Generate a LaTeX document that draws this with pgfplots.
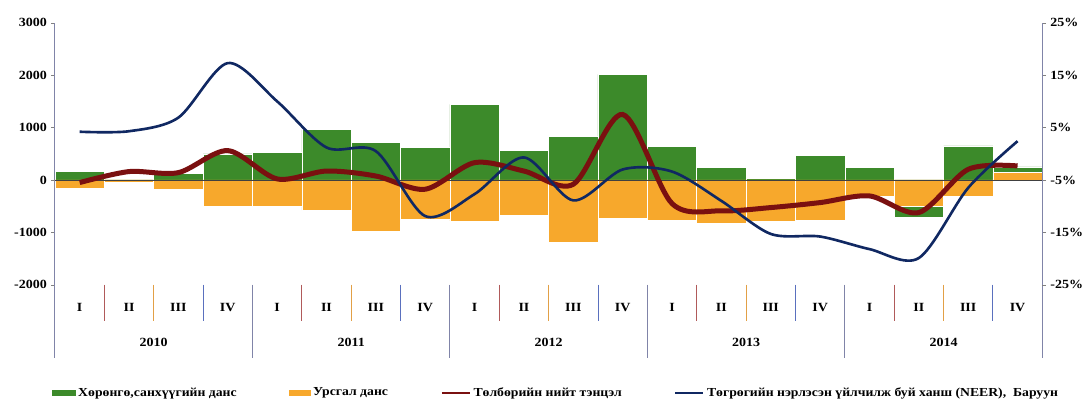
\documentclass[border=0pt]{standalone}
\usepackage{fontspec}
\setmainfont{Liberation Serif}[FakeStretch=1.12]
\usepackage{pgfplots}
\usepackage{pgfplotstable}
\pgfplotsset{compat=1.18}

\definecolor{capgreen}{RGB}{60,138,42}
\definecolor{curorange}{RGB}{247,168,44}
\definecolor{bopred}{RGB}{122,16,16}
\definecolor{neerblue}{RGB}{16,40,98}
\definecolor{axisgrey}{RGB}{128,132,168}
\definecolor{sepred}{RGB}{176,90,90}
\definecolor{sepora}{RGB}{226,160,70}
\definecolor{sepblue}{RGB}{90,112,190}

% quarter values, Q1 2010 .. Q4 2014 (left axis, mln USD)
\pgfplotstableread{
x    capfin current bop
0.5   160   -150   -50
1.5     0    -40   160
2.5   120   -170   140
3.5   500   -495   560
4.5   520   -495    20
5.5   960   -577   170
6.5   710   -971    75
7.5   615   -749  -177
8.5  1440   -781   330
9.5   566   -667   170
10.5  838  -1194   -82
11.5 2013   -730  1250
12.5  634   -768  -450
13.5  234   -832  -590
14.5   32   -794  -527
15.5  470   -768  -432
16.5  234   -305  -305
17.5 -720   -495  -622
18.5  648   -305   203
19.5  248    140   267
}\bopdata

% NEER, right axis (%)
\pgfplotstableread{
x    neer
0.5   4.2
1.5   4.3
2.5   6.9
3.5  17.3
4.5  10.0
5.5   1.2
6.5   0.5
7.5 -11.9
8.5  -7.7
9.5  -0.7
10.5 -8.9
11.5 -3.0
12.5 -3.4
13.5 -9.0
14.5 -15.3
15.5 -15.8
16.5 -18.2
17.5 -19.9
18.5 -6.5
19.5  2.4
}\neerdata

\pgfplotsset{
  common/.style={
    scale only axis, width=789.8pt, height=209.6pt,
    xmin=0, xmax=20,
    clip=false,
    tick align=outside, major tick length=3pt,
    /pgf/number format/assume math mode=true,
    /pgf/number format/1000 sep={},
    yticklabel style={font=\fontsize{10}{12}\selectfont\bfseries},
    xticklabel style={font=\fontsize{10}{12}\selectfont\bfseries},
  }
}

\begin{document}
\begin{tikzpicture}
\begin{axis}[
  common, name=main,
  ymin=-2000, ymax=3000,
  axis y line*=left, axis x line*=bottom,
  x axis line style={draw=none},
  y axis line style={axisgrey, line width=0.8pt},
  ytick={-2000,-1000,...,3000},
  xtick={0.5,1.5,...,19.5},
  xticklabels={I,II,III,IV,I,II,III,IV,I,II,III,IV,I,II,III,IV,I,II,III,IV},
  every x tick/.style={draw=none},
  xticklabel style={anchor=center, yshift=-15.2pt},
  extra x ticks={2,6,10,14,18},
  extra x tick labels={2010,2011,2012,2013,2014},
  extra x tick style={xticklabel style={yshift=-27.7pt}},
]
\addplot[ybar, bar width=1, bar shift=0pt, fill=capgreen, draw=white, line width=0.4pt]
  table[x=x, y=capfin] {\bopdata};
\addplot[ybar, bar width=1, bar shift=0pt, fill=curorange, draw=white, line width=0.4pt]
  table[x=x, y=current] {\bopdata};
\draw[black!75, line width=0.6pt] (axis cs:0,0) -- (axis cs:20,0);
\addplot[bopred, line width=4pt, smooth] table[x=x, y=bop] {\bopdata};

% category separators below the plot
\pgfplotsinvokeforeach{1,5,9,13,17}{
  \draw[sepred, line width=0.7pt] (axis cs:#1,-2000) -- ++(0pt,-29pt);}
\pgfplotsinvokeforeach{2,6,10,14,18}{
  \draw[sepora, line width=0.7pt] (axis cs:#1,-2000) -- ++(0pt,-29pt);}
\pgfplotsinvokeforeach{3,7,11,15,19}{
  \draw[sepblue, line width=0.7pt] (axis cs:#1,-2000) -- ++(0pt,-29pt);}
\pgfplotsinvokeforeach{0,4,8,12,16,20}{
  \draw[axisgrey, line width=0.8pt] (axis cs:#1,-2000) -- ++(0pt,-58.4pt);}
\end{axis}

\begin{axis}[
  common,
  ymin=-25, ymax=25,
  axis y line*=right, axis x line=none,
  y axis line style={axisgrey, line width=0.8pt},
  ytick={-25,-15,...,25},
  yticklabel={\pgfmathprintnumber{\tick}\%},
  legend columns=4,
  legend style={at={(axis description cs:0,0)}, anchor=west,
    xshift=-2.4pt, yshift=-86.5pt, draw=none, fill=none, inner sep=0pt,
    font=\fontsize{9.8}{12}\selectfont\bfseries,
    /tikz/every odd column/.append style={column sep=0pt},
    /tikz/every even column/.append style={column sep=40pt}},
  legend cell align=left,
]
\addlegendimage{legend image code/.code={\fill[capgreen] (0pt,-2.2pt) rectangle (18.4pt,2.2pt);}}
\addlegendentry{Хөрөнгө,санхүүгийн данс}
\addlegendimage{legend image code/.code={\fill[curorange] (0pt,-2.2pt) rectangle (16.8pt,2.2pt);}}
\addlegendentry{Урсгал данс}
\addlegendimage{legend image code/.code={\draw[bopred, line width=2pt] (0pt,0pt) -- (22.4pt,0pt);}}
\addlegendentry{Төлбөрийн нийт тэнцэл}
\addplot[neerblue, line width=2.1pt, smooth,
  legend image code/.code={\draw[neerblue, line width=1.8pt] (0pt,0pt) -- (22.4pt,0pt);}]
  table[x=x, y=neer] {\neerdata};
\addlegendentry{Төгрөгийн нэрлэсэн үйлчилж буй ханш (NEER),\ \ Баруун}
\end{axis}

\pgfresetboundingbox
\path[use as bounding box] ([shift={(-44pt,18.2pt)}]main.north west)
  rectangle ([shift={(35.8pt,-93pt)}]main.south east);
\end{tikzpicture}
\end{document}
